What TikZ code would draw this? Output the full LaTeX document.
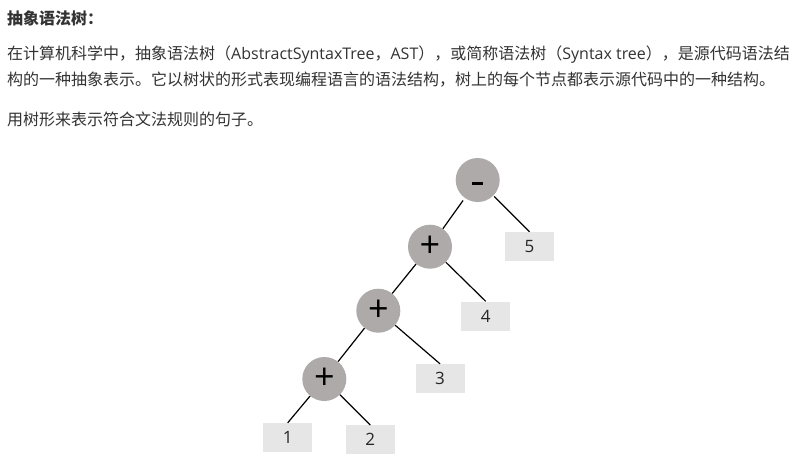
\documentclass[tikz,border=0pt]{standalone}
\usepackage{fontspec}
\setmainfont{Open Sans}
\newfontfamily\cjk{Noto Sans CJK SC}
\newfontfamily\lat{Open Sans}
\definecolor{txt}{HTML}{333333}
\definecolor{opfill}{HTML}{ADAAA9}
\definecolor{leaffill}{HTML}{E6E6E6}
\tikzset{
  para/.style={anchor=west, inner sep=0pt, text=txt, font=\fontsize{16}{20}\selectfont},
  opnode/.style={circle, fill=opfill, minimum size=44pt, inner sep=0pt, font=\lat\fontsize{36}{36}\selectfont},
  leaf/.style={rectangle, fill=leaffill, minimum width=49pt, minimum height=29pt, inner sep=0pt, text=black!85, font=\lat\fontsize{17}{17}\selectfont},
  edge/.style={draw=black, line width=1.2pt}
}
\begin{document}
\begin{tikzpicture}[x=1pt,y=-1pt]
\useasboundingbox (0,0) rectangle (799,467);
\fill[white] (0,0) rectangle (799,467);
% text
\node[para] (h) at (7,18) {\cjk\bfseries 抽象语法树：};
\node[para] (l1) at (7,55) {\cjk 在计算机科学中，抽象语法树（\lat AbstractSyntaxTree\cjk ，\lat AST\cjk ），或简称语法树（\lat Syntax tree\cjk ），是源代码语法结};
\node[para] (l2) at (7,80) {\cjk 构的一种抽象表示。它以树状的形式表现编程语言的语法结构，树上的每个节点都表示源代码中的一种结构。};
\node[para] (l3) at (7,119) {\cjk 用树形来表示符合文法规则的句子。};
% tree
\node[opnode] (m) at (477.7,180) {\raisebox{-4.5pt}[0pt][0pt]{\rule{11pt}{3pt}}};
\node[opnode] (p1) at (430,246.7) {+};
\node[opnode] (p2) at (378.3,310.7) {+};
\node[opnode] (p3) at (324.3,379) {+};
\node[leaf] (n5) at (529.5,246.5) {5};
\node[leaf] (n4) at (485.7,316) {4};
\node[leaf] (n3) at (440,378.5) {3};
\node[leaf] (n1) at (287.7,437.5) {1};
\node[leaf] (n2) at (370.3,439.7) {2};
\draw[edge, shorten <=3pt] (m) -- (p1);
\draw[edge, shorten <=1pt] (m) -- (n5.north);
\draw[edge] (p1) -- (p2);
\draw[edge] (p1) -- (n4.north);
\draw[edge] (p2) -- (p3);
\draw[edge] (p2) -- (n3.north);
\draw[edge] (p3) -- (n1.north);
\draw[edge] (p3) -- (n2.north);
\end{tikzpicture}
\end{document}
